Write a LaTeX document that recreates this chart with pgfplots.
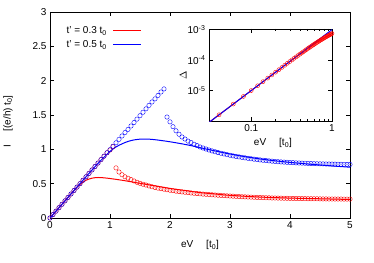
\documentclass[border=0pt]{standalone}
\usepackage{pgfplots}
\pgfplotsset{compat=1.18}
\usepackage{fontspec}
\setmainfont{Liberation Sans}
\begin{document}
\begin{tikzpicture}[font=\fontsize{10}{12}\selectfont]
\useasboundingbox (-50pt,-44pt) rectangle (324pt,218pt);
\begin{axis}[
  at={(0,0)}, anchor=south west,
  scale only axis, width=300pt, height=206pt,
  xmin=0, xmax=5, ymin=0, ymax=3,
  xtick={0,1,2,3,4,5}, ytick={0,0.5,1,1.5,2,2.5,3},
  /pgf/number format/assume math mode=true,
  tick align=inside, major tick length=4pt,
  axis line style={line width=0.8pt},
  major tick style={black, line width=0.6pt},
  xlabel={eV\hspace{1.3em}[t\textsubscript{0}]},
  ylabel={I\hspace{1.3em}[(e/h) t\textsubscript{0}]},
  xlabel style={at={(axis description cs:0.5,-0.131)}, anchor=center},
  ylabel style={at={(axis description cs:-0.14,0.47)}, anchor=center},
]
% circles t'=0.3
\addplot[only marks, mark=o, mark size=2.2pt, red, mark options={line width=0.4pt}] coordinates {
(0,0)(0.05,0.05)(0.10,0.10)(0.15,0.15)(0.20,0.20)(0.25,0.25)(0.30,0.30)(0.35,0.35)(0.40,0.40)(0.45,0.45)(0.50,0.50)(0.55,0.55)(0.60,0.60)(0.65,0.65)(0.70,0.70)(0.75,0.75)(0.80,0.80)(0.85,0.85)(0.90,0.90)(0.95,0.95)(1.00,0.99)(1.05,1.04)
(1.10,0.73)(1.15,0.67)(1.20,0.63)(1.25,0.60)(1.30,0.58)(1.35,0.56)(1.40,0.54)(1.45,0.52)(1.50,0.505)(1.55,0.492)(1.60,0.48)(1.65,0.467)(1.70,0.455)(1.75,0.445)(1.80,0.435)(1.85,0.427)(1.90,0.42)(1.95,0.412)
(2.00,0.405)(2.05,0.398)(2.10,0.391)(2.15,0.385)(2.20,0.38)(2.25,0.375)(2.30,0.37)(2.35,0.365)(2.40,0.36)(2.45,0.356)(2.50,0.352)(2.55,0.348)(2.60,0.345)(2.65,0.341)(2.70,0.338)(2.75,0.335)(2.80,0.332)(2.85,0.329)(2.90,0.326)(2.95,0.323)
(3.00,0.32)(3.05,0.318)(3.10,0.315)(3.15,0.313)(3.20,0.31)(3.25,0.308)(3.30,0.306)(3.35,0.304)(3.40,0.302)(3.45,0.300)(3.50,0.298)(3.55,0.297)(3.60,0.295)(3.65,0.294)(3.70,0.292)(3.75,0.291)(3.80,0.29)(3.85,0.289)(3.90,0.288)(3.95,0.287)
(4.00,0.286)(4.05,0.285)(4.10,0.284)(4.15,0.284)(4.20,0.283)(4.25,0.282)(4.30,0.281)(4.35,0.281)(4.40,0.28)(4.45,0.28)(4.50,0.279)(4.55,0.278)(4.60,0.278)(4.65,0.277)(4.70,0.277)(4.75,0.276)(4.80,0.276)(4.85,0.276)(4.90,0.275)(4.95,0.275)(5.00,0.275)
};
% circles t'=0.5
\addplot[only marks, mark=o, mark size=2.2pt, blue, mark options={line width=0.4pt}] coordinates {
(0,0)(0.05,0.05)(0.10,0.10)(0.15,0.15)(0.20,0.20)(0.25,0.25)(0.30,0.30)(0.35,0.35)(0.40,0.40)(0.45,0.45)(0.50,0.50)(0.55,0.55)(0.60,0.60)(0.65,0.65)(0.70,0.70)(0.75,0.75)(0.80,0.80)(0.85,0.85)(0.90,0.90)(0.95,0.95)
(1.00,0.995)(1.05,1.045)(1.10,1.095)(1.15,1.145)(1.20,1.195)(1.25,1.245)(1.30,1.29)(1.35,1.34)(1.40,1.39)(1.45,1.44)(1.50,1.49)(1.55,1.54)(1.60,1.59)(1.65,1.64)(1.70,1.69)(1.75,1.735)(1.80,1.785)(1.85,1.835)(1.90,1.88)
(1.95,1.47)(2.00,1.40)(2.05,1.33)(2.10,1.27)(2.15,1.22)(2.20,1.18)(2.25,1.15)(2.30,1.12)(2.35,1.10)(2.40,1.075)(2.45,1.055)(2.50,1.035)(2.55,1.02)(2.60,1.005)(2.65,0.99)(2.70,0.977)(2.75,0.965)(2.80,0.953)(2.85,0.943)(2.90,0.933)(2.95,0.923)
(3.00,0.914)(3.05,0.905)(3.10,0.897)(3.15,0.89)(3.20,0.883)(3.25,0.876)(3.30,0.869)(3.35,0.863)(3.40,0.857)(3.45,0.852)(3.50,0.846)(3.55,0.841)(3.60,0.837)(3.65,0.832)(3.70,0.828)(3.75,0.824)(3.80,0.82)(3.85,0.817)(3.90,0.814)(3.95,0.811)
(4.00,0.808)(4.05,0.806)(4.10,0.803)(4.15,0.801)(4.20,0.799)(4.25,0.797)(4.30,0.795)(4.35,0.793)(4.40,0.792)(4.45,0.79)(4.50,0.789)(4.55,0.788)(4.60,0.787)(4.65,0.786)(4.70,0.785)(4.75,0.784)(4.80,0.783)(4.85,0.782)(4.90,0.781)(4.95,0.78)(5.00,0.78)
};
\addplot[red, line width=1pt, smooth] coordinates {
(0,0)(0.2,0.2)(0.4,0.4)(0.5,0.49)(0.6,0.55)(0.7,0.58)(0.8,0.59)(0.9,0.585)(1.0,0.575)(1.2,0.55)(1.4,0.52)(1.6,0.49)(1.8,0.46)(2.0,0.43)(2.25,0.40)(2.5,0.37)(2.75,0.35)(3.0,0.33)(3.5,0.305)(4.0,0.29)(4.5,0.28)(5.0,0.27)
};
\addplot[blue, line width=1pt, smooth] coordinates {
(0,0)(0.2,0.2)(0.4,0.4)(0.6,0.6)(0.8,0.795)(0.9,0.885)(1.0,0.97)(1.1,1.035)(1.2,1.08)(1.3,1.115)(1.4,1.137)(1.5,1.148)(1.6,1.15)(1.7,1.145)(1.8,1.135)(1.9,1.123)(2.0,1.11)(2.2,1.08)(2.4,1.045)(2.6,1.005)(2.8,0.968)(3.0,0.932)(3.25,0.893)(3.5,0.86)(3.75,0.833)(4.0,0.81)(4.25,0.79)(4.5,0.772)(4.75,0.755)(5.0,0.74)
};
% legend
\node[anchor=east, inner sep=0pt] at (axis description cs:0.19,0.908) {t' = 0.3 t\textsubscript{0}};
\draw[red, line width=1pt] (axis description cs:0.21,0.908) -- (axis description cs:0.303,0.908);
\node[anchor=east, inner sep=0pt] at (axis description cs:0.19,0.840) {t' = 0.5 t\textsubscript{0}};
\draw[blue, line width=1pt] (axis description cs:0.21,0.840) -- (axis description cs:0.303,0.840);
\end{axis}
\begin{axis}[
  at={(159pt,97pt)}, anchor=south west,
  scale only axis, width=123pt, height=92pt,
  xmode=log, ymode=log,
  xmin=0.03, xmax=1, ymin=1e-6, ymax=1.05e-3,
  xtick={0.1,1}, xticklabels={0.1,1},
  ytick={1e-5,1e-4,1e-3}, yticklabels={10\textsuperscript{-5},10\textsuperscript{-4},10\textsuperscript{-3}},
  yminorticks=false,
  tick align=inside, major tick length=4pt, minor tick length=2pt,
  axis line style={line width=0.8pt},
  major tick style={black, line width=0.6pt},
  minor tick style={black, line width=0.5pt},
  axis background/.style={fill=white},
  xlabel={eV\hspace{1.3em}[t\textsubscript{0}]},
  ylabel={$\Delta$},
  xlabel style={at={(axis description cs:0.52,-0.24)}, anchor=center},
  ylabel style={at={(axis description cs:-0.21,0.5)}, anchor=center},
]
\addplot[red, line width=1pt] coordinates {
(0.03,9e-7)(0.3,8.95e-5)(0.4,1.56e-4)(0.5,2.375e-4)(0.6,3.294e-4)(0.7,4.292e-4)(0.8,5.35e-4)(0.9,6.407e-4)(1.0,7.46e-4)
};
\addplot[only marks, mark=o, mark size=2pt, red, mark options={line width=0.4pt}] coordinates {
(0.04,1.6e-6)(0.06,3.6e-6)(0.08,6.4e-6)(0.10,1.0e-5)(0.12,1.44e-5)(0.14,1.96e-5)(0.16,2.56e-5)(0.18,3.24e-5)(0.20,4.0e-5)(0.22,4.84e-5)(0.24,5.76e-5)(0.26,6.76e-5)(0.28,7.84e-5)(0.30,8.95e-5)
(0.32,1.014e-4)(0.34,1.144e-4)(0.36,1.277e-4)(0.38,1.415e-4)(0.40,1.56e-4)(0.42,1.711e-4)(0.44,1.868e-4)(0.46,2.031e-4)(0.48,2.2e-4)(0.50,2.375e-4)(0.52,2.55e-4)(0.54,2.729e-4)(0.56,2.913e-4)(0.58,3.102e-4)(0.60,3.294e-4)
(0.62,3.49e-4)(0.64,3.686e-4)(0.66,3.886e-4)(0.68,4.088e-4)(0.70,4.292e-4)(0.72,4.5e-4)(0.74,4.709e-4)(0.76,4.921e-4)(0.78,5.135e-4)(0.80,5.35e-4)(0.82,5.561e-4)(0.84,5.772e-4)(0.86,5.983e-4)(0.88,6.195e-4)(0.90,6.407e-4)
(0.92,6.619e-4)(0.94,6.83e-4)(0.96,7.041e-4)(0.98,7.251e-4)(1.00,7.46e-4)
};
\addplot[blue, line width=1pt] coordinates {(0.03,9e-7)(1,1e-3)};
\end{axis}
\end{tikzpicture}
\end{document}
